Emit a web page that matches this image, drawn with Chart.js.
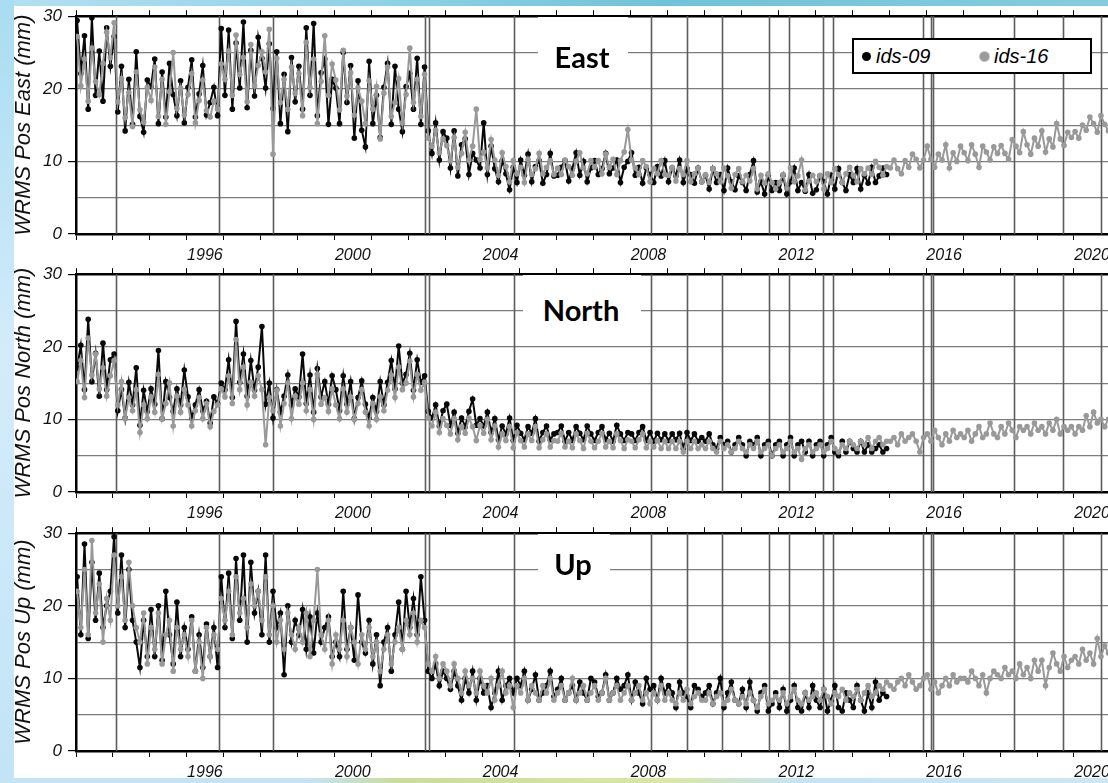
<!DOCTYPE html>
<html>
<head>
<meta charset="utf-8">
<title>WRMS Pos</title>
<script src="https://cdn.jsdelivr.net/npm/chart.js@4.4.1/dist/chart.umd.min.js"></script>
<style>
  body { margin: 0; width: 1108px; height: 783px; overflow: hidden; position: relative; background: #c6e6f6; }
  #topband { position: absolute; left: 0; top: 0; width: 1108px; height: 6px;
    background: linear-gradient(90deg, #b3e0f2 0%, #8fd1e6 35%, #6fc3d8 60%, #86cce0 100%); }
  #leftband { position: absolute; left: 0; top: 0; width: 14px; height: 783px;
    background: linear-gradient(180deg, #a9dcf1 0%, #d3ecf9 45%, #c2e4f5 100%); }
  #bottomband { position: absolute; left: 0; top: 778px; width: 1108px; height: 5px;
    background: linear-gradient(90deg, #c4e4f4 0%, #c4e4f4 28%, #c9dc9c 36%, #dbe6a8 60%, #c4e4f4 72%, #cde7f3 100%); }
  #sheet { position: absolute; left: 14px; top: 6px; width: 1094px; height: 772px; background: #fff; }
  canvas { position: absolute; left: 0; }
  .box { position: absolute; background: #fff; }
  .tag { position: absolute; width: 100px; text-align: center; font-family: Lato, "Open Sans", sans-serif;
    font-weight: 700; font-size: 29px; line-height: 29px; color: #000; }
  #legend { position: absolute; left: 852px; top: 38px; width: 240px; height: 36px; box-sizing: border-box;
    border: 2px solid #000; background: #fff; }
  .dot { position: absolute; width: 9px; height: 9px; border-radius: 50%; top: 12px; }
  .lab { position: absolute; top: 5px; font-family: "Liberation Sans", Arial, sans-serif; font-style: italic;
    font-size: 20px; line-height: 22px; color: #000; }
</style>
</head>
<body>
<div id="topband"></div>
<div id="leftband"></div>
<div id="bottomband"></div>
<div id="sheet"></div>

<canvas id="eastChart" width="1108" height="274" style="top:0px"></canvas>
<canvas id="northChart" width="1108" height="274" style="top:258px"></canvas>
<canvas id="upChart" width="1108" height="274" style="top:517px"></canvas>

<div class="box" style="left:538px; top:17px; width:90px; height:58px"></div>
<div class="tag" style="left:532px; top:42px">East</div>
<div class="box" style="left:523px; top:275px; width:118px; height:60px"></div>
<div class="tag" style="left:531px; top:295px">North</div>
<div class="box" style="left:538px; top:534px; width:72px; height:60px"></div>
<div class="tag" style="left:523px; top:549px">Up</div>

<div id="legend">
  <span class="dot" style="left:8px; background:#000"></span>
  <span class="lab" style="left:22px">ids-09</span>
  <span class="dot" style="left:126px; background:#9a9a9a; box-shadow:0 0 0 1px #c4c4c4"></span>
  <span class="lab" style="left:140px">ids-16</span>
</div>

<script>
// sampling of the series: 10 values per year, starting at the beginning of 1993
const firstYear = 1993.03;
const samplesPerYear = 10;

const tickYears = [1993, 1994, 1995, 1996, 1997, 1998, 1999, 2000, 2001, 2002, 2003, 2004, 2005, 2006,
  2007, 2008, 2009, 2010, 2011, 2012, 2013, 2014, 2015, 2016, 2017, 2018, 2019, 2020];
const labelYears = [1996, 2000, 2004, 2008, 2012, 2016, 2020];
const yGrid = [0, 2.5, 5, 7.5, 10, 12.5, 15, 17.5, 20, 22.5, 25, 27.5, 30];
const yLabels = [0, 10, 20, 30];
// vertical event lines
const eventYears = [1994.08, 1996.87, 1998.33, 2002.44, 2002.55, 2004.85, 2008.56, 2009.53, 2010.48,
  2011.75, 2012.29, 2013.21, 2013.48, 2015.92, 2016.13, 2016.19, 2018.38, 2019.71, 2020.74];

// East, mm
const eastIds09 = [
  29.4, 22.1, 27.3, 17.2, 29.8, 19.1, 25.2, 18.3, 28.4, 23.1, // 1993
  27.2, 16.8, 23.1, 14.2, 21.3, 15.1, 25.1, 16.2, 14.0, 21.2, // 1994
  20.3, 24.1, 15.2, 22.3, 16.1, 23.5, 19.2, 16.3, 21.1, 15.3, // 1995
  20.2, 24.0, 16.1, 19.3, 23.2, 16.4, 18.1, 20.2, 16.3, 28.3, // 1996
  19.1, 28.1, 17.2, 26.3, 20.1, 29.2, 17.4, 25.3, 19.0, 27.1, // 1997
  24.2, 20.1, 26.2, 17.3, 25.1, 15.2, 22.0, 14.1, 24.3, 18.2, // 1998
  23.1, 17.2, 28.4, 19.1, 29.0, 16.3, 22.2, 24.1, 15.1, 21.3, // 1999
  20.1, 15.2, 25.0, 18.1, 23.2, 13.2, 21.1, 14.3, 12.0, 23.8, // 2000
  15.2, 19.1, 13.3, 20.2, 23.5, 15.1, 23.1, 17.2, 14.1, 20.3, // 2001
  22.1, 17.2, 24.2, 15.1, 23.0, 14.2, 11.1, 15.3, 10.2, 14.1, // 2002
  13.2, 9.1, 14.2, 8.0, 12.3, 13.1, 8.2, 11.1, 10.2, 9.1,     // 2003
  15.3, 8.2, 12.1, 9.0, 7.2, 10.1, 8.3, 6.1, 9.2, 7.1,        // 2004
  10.2, 8.1, 11.0, 7.2, 9.3, 10.1, 7.0, 8.2, 11.1, 8.0,       // 2005
  8.1, 9.2, 10.1, 7.3, 9.0, 11.2, 8.1, 10.0, 7.2, 9.1,        // 2006
  10.1, 8.2, 9.0, 11.1, 8.3, 9.1, 10.2, 7.1, 9.2, 10.0,       // 2007
  11.2, 8.1, 9.2, 7.0, 9.1, 8.2, 7.1, 9.3, 8.0, 10.1,         // 2008
  7.2, 9.1, 8.0, 10.2, 7.1, 9.0, 8.2, 7.0, 9.1, 7.2,          // 2009
  8.1, 6.2, 9.0, 7.1, 8.2, 6.0, 9.1, 7.2, 6.1, 8.0,           // 2010
  7.1, 6.0, 8.2, 10.1, 5.8, 7.2, 5.5, 8.1, 6.0, 7.1,          // 2011
  6.0, 8.1, 5.5, 7.2, 9.1, 6.0, 7.1, 5.9, 8.2, 5.6,           // 2012
  6.1, 8.0, 7.2, 5.5, 8.1, 6.2, 9.0, 7.1, 6.0, 8.2,           // 2013
  7.1, 9.0, 6.2, 8.1, 7.0, 9.2, 7.1, 8.0, 9.1, 8.2            // 2014
];
const eastIds16 = [
  27.2, 20.4, 24.1, 18.3, 25.6, 21.0, 19.2, 23.5, 27.8, 24.3, // 1993
  29.1, 18.2, 21.4, 16.0, 19.5, 14.8, 22.3, 17.1, 15.4, 20.2, // 1994
  18.4, 23.0, 16.2, 21.3, 15.1, 19.6, 25.0, 17.3, 20.1, 16.4, // 1995
  19.2, 22.1, 15.3, 18.4, 21.2, 17.0, 16.1, 18.3, 17.2, 23.4, // 1996
  21.3, 25.2, 19.1, 27.4, 22.0, 24.3, 18.2, 26.1, 20.4, 23.2, // 1997
  25.1, 22.3, 28.2, 11.0, 24.2, 18.1, 21.3, 17.2, 23.0, 19.4, // 1998
  22.1, 16.3, 26.4, 20.2, 24.1, 15.2, 21.0, 27.3, 19.1, 23.4, // 1999
  21.2, 17.1, 25.3, 19.0, 22.2, 16.4, 20.1, 18.3, 15.2, 21.1, // 2000
  17.2, 20.3, 13.1, 19.4, 23.0, 16.2, 18.1, 21.4, 15.3, 19.2, // 2001
  25.6, 18.1, 21.3, 16.2, 22.0, 13.2, 12.1, 14.3, 11.2, 13.1, // 2002
  12.2, 10.1, 13.3, 9.2, 11.1, 14.0, 10.2, 12.1, 17.2, 10.3,  // 2003
  11.3, 9.1, 13.0, 10.2, 8.1, 11.2, 9.3, 7.2, 10.1, 8.3,      // 2004
  9.2, 7.1, 10.3, 8.2, 9.0, 11.1, 8.3, 9.2, 10.1, 8.2,        // 2005
  9.1, 8.2, 10.2, 9.3, 8.1, 10.0, 11.2, 9.1, 8.3, 10.1,       // 2006
  9.2, 10.1, 8.3, 11.0, 9.2, 10.3, 8.2, 10.1, 11.3, 14.4,     // 2007
  10.2, 9.1, 8.2, 10.1, 9.3, 7.2, 9.0, 8.3, 10.1, 8.2,        // 2008
  8.1, 9.2, 7.3, 9.0, 8.2, 10.1, 7.2, 8.3, 9.1, 7.2,          // 2009
  8.2, 7.1, 9.0, 8.3, 7.2, 9.1, 8.0, 6.3, 8.2, 9.0,           // 2010
  7.2, 8.1, 7.3, 9.0, 6.2, 8.1, 7.0, 8.3, 7.1, 6.2,           // 2011
  7.1, 8.2, 6.3, 9.1, 7.2, 8.0, 10.2, 6.1, 7.3, 8.1,          // 2012
  7.2, 8.1, 6.2, 8.3, 7.1, 9.0, 8.2, 7.1, 8.3, 9.2,           // 2013
  8.1, 7.2, 9.0, 8.3, 9.1, 8.2, 10.0, 9.2, 8.1, 9.3,          // 2014
  9.1, 10.2, 9.0, 8.3, 10.1, 9.2, 11.0, 10.3, 9.1, 10.2,      // 2015
  12.1, 10.3, 9.2, 11.0, 10.2, 12.3, 9.1, 11.2, 10.0, 12.1,   // 2016
  11.2, 10.1, 12.3, 11.0, 9.2, 12.1, 11.3, 10.2, 12.0, 11.1,  // 2017
  12.2, 11.1, 10.3, 13.0, 12.1, 11.2, 14.1, 12.3, 11.0, 13.2, // 2018
  12.1, 14.2, 11.3, 13.1, 12.0, 15.2, 13.1, 12.2, 14.0, 13.3, // 2019
  14.1, 13.2, 15.0, 14.3, 16.1, 15.2, 14.0, 16.3, 15.1, 14.2  // 2020
];

// North, mm
const northIds09 = [
  17.1, 20.2, 14.1, 23.8, 15.2, 19.1, 13.2, 20.5, 14.1, 18.2, // 1993
  19.0, 11.2, 14.1, 10.2, 15.1, 12.0, 17.1, 9.2, 14.0, 11.1,  // 1994
  14.2, 12.1, 19.5, 10.1, 15.2, 13.0, 11.1, 14.2, 12.0, 16.8, // 1995
  13.1, 10.2, 12.0, 14.1, 11.2, 12.5, 9.5, 13.1, 12.2, 15.0,  // 1996
  14.1, 18.2, 13.0, 23.5, 15.1, 19.0, 13.2, 18.1, 14.0, 17.2, // 1997
  22.8, 12.1, 15.0, 10.2, 14.1, 11.0, 13.2, 16.1, 12.0, 14.2, // 1998
  13.1, 19.0, 12.2, 16.1, 11.0, 17.0, 13.1, 15.2, 12.1, 16.0, // 1999
  14.1, 11.2, 16.0, 12.1, 15.2, 10.1, 13.0, 15.3, 12.1, 10.2, // 2000
  13.0, 11.1, 15.2, 12.0, 15.1, 18.1, 14.2, 20.1, 15.0, 16.2, // 2001
  19.1, 14.0, 18.2, 15.1, 16.0, 11.1, 10.2, 12.0, 9.1, 11.2,  // 2002
  12.1, 9.2, 11.0, 8.1, 10.2, 9.0, 11.1, 12.8, 9.2, 10.1,     // 2003
  9.1, 11.0, 8.2, 10.1, 7.2, 9.1, 8.0, 10.2, 7.1, 9.2,        // 2004
  8.1, 7.2, 9.0, 8.1, 10.1, 7.0, 8.2, 9.1, 7.2, 8.0,          // 2005
  8.2, 9.1, 7.0, 8.2, 7.1, 9.0, 8.1, 7.2, 9.1, 8.0,           // 2006
  7.1, 8.2, 9.0, 7.2, 8.1, 7.0, 9.2, 8.0, 7.1, 8.2,           // 2007
  8.0, 7.1, 8.2, 9.0, 7.1, 8.2, 7.0, 8.1, 7.2, 8.0,           // 2008
  7.1, 8.0, 7.2, 8.1, 6.0, 8.2, 7.1, 8.0, 7.0, 7.5,           // 2009
  7.0, 8.0, 6.5, 6.0, 7.5, 6.5, 7.0, 5.5, 6.5, 7.5,           // 2010
  6.5, 5.0, 7.0, 6.5, 7.5, 5.0, 6.5, 7.0, 5.0, 6.5,           // 2011
  7.0, 5.0, 6.5, 7.5, 5.0, 6.5, 7.0, 5.5, 7.0, 5.0,           // 2012
  6.5, 7.0, 5.0, 6.5, 7.5, 5.5, 5.0, 7.0, 5.5, 7.0,           // 2013
  6.0, 5.5, 7.0, 5.5, 6.5, 5.5, 6.0, 6.5, 5.5, 6.0            // 2014
];
const northIds16 = [
  15.2, 18.1, 13.0, 21.2, 16.1, 19.0, 14.2, 17.1, 13.2, 16.0, // 1993
  18.1, 12.0, 15.2, 10.1, 13.0, 11.2, 14.1, 8.2, 12.0, 10.1,  // 1994
  13.1, 11.0, 16.2, 10.1, 12.2, 15.0, 9.1, 13.2, 11.0, 14.1,  // 1995
  12.0, 9.1, 11.2, 13.0, 10.1, 12.2, 9.0, 11.1, 12.0, 14.2,   // 1996
  13.1, 16.0, 12.2, 21.0, 14.1, 17.2, 12.0, 15.1, 13.2, 16.0, // 1997
  14.1, 6.5, 13.0, 11.2, 14.0, 9.1, 12.2, 15.0, 10.1, 13.2,   // 1998
  12.1, 15.0, 11.2, 14.1, 10.0, 16.2, 12.1, 13.0, 11.1, 14.2, // 1999
  12.0, 10.1, 14.2, 11.0, 13.1, 10.0, 12.2, 14.1, 11.0, 9.1,  // 2000
  12.2, 10.0, 13.1, 11.2, 14.0, 16.1, 13.0, 17.2, 14.1, 15.0, // 2001
  18.0, 13.1, 16.2, 14.0, 15.1, 10.2, 9.1, 11.0, 8.2, 10.1,   // 2002
  9.2, 8.0, 10.1, 7.2, 9.0, 8.1, 10.2, 9.0, 7.1, 9.2,         // 2003
  8.1, 10.0, 7.2, 9.1, 6.2, 8.0, 7.1, 9.0, 6.1, 8.2,          // 2004
  7.1, 6.2, 8.0, 7.1, 9.0, 6.1, 7.2, 8.0, 6.2, 7.1,           // 2005
  7.0, 8.1, 6.2, 7.0, 6.1, 8.0, 7.1, 6.0, 8.1, 7.0,           // 2006
  6.1, 7.0, 8.1, 6.2, 7.0, 6.1, 8.0, 7.1, 6.0, 7.2,           // 2007
  7.0, 6.1, 7.2, 8.0, 6.1, 7.0, 6.2, 7.1, 6.0, 7.0,           // 2008
  6.0, 7.0, 6.0, 7.0, 5.5, 7.0, 6.0, 7.0, 6.0, 6.5,           // 2009
  6.0, 7.0, 6.0, 5.5, 7.0, 6.0, 6.5, 5.5, 6.0, 7.0,           // 2010
  6.0, 5.5, 6.5, 6.0, 7.0, 5.5, 6.0, 6.5, 5.0, 6.0,           // 2011
  6.5, 5.5, 6.0, 7.0, 5.5, 6.0, 4.5, 6.0, 6.5, 5.5,           // 2012
  6.0, 6.5, 5.5, 6.0, 7.0, 6.0, 5.5, 6.5, 6.0, 7.0,           // 2013
  6.5, 6.0, 7.0, 6.5, 7.5, 6.0, 7.0, 7.5, 6.5, 7.0,           // 2014
  7.0, 7.5, 6.5, 8.0, 7.0, 7.5, 8.0, 7.0, 5.5, 7.5,           // 2015
  8.0, 7.0, 8.5, 7.5, 6.5, 8.0, 7.0, 8.5, 7.5, 8.0,           // 2016
  7.5, 8.5, 7.0, 8.0, 9.0, 7.5, 8.0, 9.5, 8.0, 7.5,           // 2017
  9.0, 8.0, 9.5, 8.5, 7.5, 9.0, 8.5, 9.0, 8.0, 9.5,           // 2018
  8.5, 9.0, 8.0, 9.5, 8.5, 10.0, 8.0, 9.0, 8.5, 9.0,          // 2019
  8.0, 9.0, 8.5, 10.5, 9.0, 11.0, 9.5, 10.0, 9.0, 10.0        // 2020
];

// Up, mm
const upIds09 = [
  24.0, 16.0, 28.5, 15.5, 26.0, 18.0, 24.5, 17.0, 20.0, 22.0, // 1993
  29.5, 19.0, 27.0, 17.0, 25.0, 18.0, 15.0, 11.5, 18.0, 13.0, // 1994
  19.5, 13.0, 20.0, 12.5, 22.0, 16.0, 12.0, 20.5, 13.0, 17.0, // 1995
  14.0, 18.5, 11.0, 16.0, 11.5, 17.5, 13.0, 17.0, 11.5, 24.0, // 1996
  17.0, 24.5, 15.5, 26.5, 18.0, 27.0, 15.0, 26.0, 19.0, 22.0, // 1997
  16.0, 27.0, 15.0, 22.0, 17.0, 19.0, 10.5, 20.0, 15.0, 18.0, // 1998
  16.0, 19.5, 14.0, 18.5, 13.5, 19.0, 15.0, 17.0, 18.5, 13.0, // 1999
  15.0, 13.0, 22.0, 14.0, 17.0, 12.5, 21.5, 15.0, 13.5, 18.0, // 2000
  12.0, 16.0, 9.0, 15.0, 17.0, 11.0, 16.0, 20.5, 14.0, 22.0,  // 2001
  17.0, 21.0, 16.0, 24.0, 18.0, 11.0, 10.0, 12.0, 9.0, 11.0,  // 2002
  10.0, 8.5, 11.0, 9.0, 7.0, 10.0, 8.0, 11.0, 7.0, 10.0,      // 2003
  8.0, 9.0, 6.0, 8.0, 11.0, 7.0, 9.0, 10.0, 8.0, 10.0,        // 2004
  9.0, 11.0, 7.0, 8.5, 10.5, 7.0, 8.0, 9.0, 11.0, 7.5,        // 2005
  8.5, 10.0, 7.0, 8.0, 9.0, 7.0, 9.5, 8.0, 7.0, 10.0,         // 2006
  9.5, 7.5, 8.0, 10.5, 7.0, 8.0, 10.0, 8.5, 9.0, 10.5,        // 2007
  7.0, 9.5, 8.0, 6.5, 10.0, 8.5, 9.0, 7.0, 10.0, 8.0,         // 2008
  9.0, 8.0, 6.0, 9.5, 8.0, 7.5, 6.0, 9.0, 8.5, 7.5,           // 2009
  8.0, 9.0, 6.5, 8.0, 10.0, 6.0, 8.0, 9.5, 7.0, 6.5,          // 2010
  8.5, 6.0, 9.5, 7.0, 5.5, 8.0, 9.0, 5.5, 6.5, 8.0,           // 2011
  6.0, 8.5, 5.5, 7.0, 9.0, 6.0, 5.5, 8.0, 6.0, 9.0,           // 2012
  7.0, 6.0, 8.5, 5.5, 7.0, 9.0, 6.0, 5.5, 8.0, 7.0,           // 2013
  6.0, 9.0, 7.0, 5.5, 8.0, 6.0, 9.5, 7.0, 8.0, 7.5            // 2014
];
const upIds16 = [
  22.0, 17.0, 25.0, 16.0, 29.0, 19.0, 23.0, 15.0, 21.0, 18.0, // 1993
  27.0, 20.0, 24.0, 18.0, 26.0, 20.0, 17.0, 15.0, 19.0, 12.0, // 1994
  17.0, 14.0, 19.0, 12.0, 16.0, 18.0, 11.0, 17.0, 14.0, 16.0, // 1995
  13.0, 18.0, 11.0, 15.0, 10.0, 17.0, 13.0, 16.0, 14.0, 21.0, // 1996
  18.0, 22.0, 16.0, 24.0, 19.0, 21.0, 17.0, 23.0, 20.0, 22.0, // 1997
  18.0, 24.0, 16.0, 20.0, 15.0, 18.0, 14.0, 19.0, 16.0, 14.0, // 1998
  17.0, 15.0, 19.0, 13.0, 18.0, 25.0, 16.0, 14.0, 18.0, 12.0, // 1999
  16.0, 14.0, 18.0, 13.0, 17.0, 15.0, 12.0, 16.0, 14.0, 17.0, // 2000
  13.0, 15.0, 11.0, 14.0, 16.0, 12.0, 15.0, 17.0, 14.0, 18.0, // 2001
  16.0, 19.0, 15.0, 18.0, 17.0, 12.0, 11.0, 13.0, 10.0, 12.0, // 2002
  11.0, 9.0, 12.0, 10.0, 8.0, 11.0, 9.0, 10.0, 8.0, 11.0,     // 2003
  9.0, 8.0, 10.0, 7.0, 9.0, 11.0, 8.0, 9.0, 6.0, 9.0,         // 2004
  8.0, 10.0, 7.0, 9.0, 8.0, 7.0, 9.0, 8.0, 10.0, 7.0,         // 2005
  8.0, 9.0, 7.0, 8.0, 10.0, 7.0, 8.0, 9.0, 7.0, 8.0,          // 2006
  9.0, 7.0, 8.0, 10.0, 7.0, 8.0, 9.0, 7.0, 8.0, 9.0,          // 2007
  7.0, 8.0, 9.0, 7.0, 8.0, 6.5, 8.0, 7.0, 9.0, 7.0,           // 2008
  8.0, 7.0, 6.5, 8.0, 7.0, 8.5, 6.5, 7.5, 8.0, 7.0,           // 2009
  7.0, 8.0, 6.5, 7.5, 8.0, 6.5, 7.0, 8.5, 7.0, 6.5,           // 2010
  7.5, 6.5, 8.0, 7.0, 6.0, 7.5, 8.5, 6.5, 7.0, 7.5,           // 2011
  7.0, 8.0, 6.5, 7.5, 8.5, 7.0, 6.5, 8.0, 7.0, 7.5,           // 2012
  8.0, 7.0, 8.5, 7.5, 6.5, 8.0, 7.5, 8.5, 7.0, 8.0,           // 2013
  7.5, 8.5, 7.0, 8.0, 9.0, 7.5, 8.0, 9.0, 8.5, 9.5,           // 2014
  9.0, 8.5, 9.5, 10.0, 9.0, 10.5, 9.5, 8.5, 9.0, 10.0,        // 2015
  10.5, 8.5, 9.5, 8.0, 9.0, 10.0, 9.0, 10.5, 9.5, 10.0,       // 2016
  10.0, 9.5, 11.0, 10.0, 9.0, 10.5, 8.0, 10.0, 11.0, 10.5,    // 2017
  10.0, 11.5, 10.5, 11.0, 10.0, 12.0, 10.5, 11.5, 10.0, 12.5, // 2018
  11.0, 12.5, 9.0, 11.5, 13.5, 12.0, 11.0, 13.0, 11.5, 12.5,  // 2019
  13.0, 12.0, 14.0, 12.5, 13.5, 12.0, 15.5, 13.0, 14.5, 13.5  // 2020
];

const axisFont = 'Liberation Sans';

function toPoints(values) {
  return values.map((v, i) => ({ x: firstYear + i / samplesPerYear, y: v }));
}

// event lines drawn between the grid and the data
const eventLines = {
  id: 'eventLines',
  beforeDatasetsDraw(chart) {
    const { ctx, chartArea, scales } = chart;
    ctx.save();
    ctx.strokeStyle = '#5c5c5c';
    ctx.lineWidth = 1.6;
    eventYears.forEach(yr => {
      const px = Math.round(scales.x.getPixelForValue(yr)) + 0.5;
      ctx.beginPath();
      ctx.moveTo(px, chartArea.top);
      ctx.lineTo(px, chartArea.bottom);
      ctx.stroke();
    });
    ctx.restore();
  }
};

function makePanel(canvasId, yTitle, ids09, ids16) {
  const tickList = () => tickYears.map(v => ({ value: v }));
  return new Chart(document.getElementById(canvasId), {
    type: 'line',
    data: {
      datasets: [
        {
          label: 'ids-09',
          data: toPoints(ids09),
          borderColor: '#080808',
          backgroundColor: '#080808',
          borderWidth: 2,
          pointRadius: 2.8,
          pointBorderWidth: 0,
          order: 2
        },
        {
          label: 'ids-16',
          data: toPoints(ids16),
          borderColor: '#999999',
          backgroundColor: '#999999',
          borderWidth: 2,
          pointRadius: 2.8,
          pointBorderWidth: 0,
          order: 1
        }
      ]
    },
    options: {
      responsive: false,
      animation: false,
      layout: { padding: { top: 6, left: 0, right: 0, bottom: 0 }, autoPadding: false },
      plugins: { legend: { display: false }, tooltip: { enabled: false } },
      scales: {
        x: {
          type: 'linear',
          position: 'bottom',
          min: 1993,
          max: 2020.92,
          afterBuildTicks: s => { s.ticks = tickList(); },
          afterFit: s => { s.height = 40; },
          ticks: {
            autoSkip: false,
            maxRotation: 0,
            labelOffset: 18,
            padding: 6,
            color: '#111',
            font: { family: axisFont, style: 'italic', size: 16 },
            callback: v => labelYears.includes(v) ? String(v) : ''
          },
          grid: { drawOnChartArea: false, tickLength: 6, color: '#000', lineWidth: 1 },
          border: { color: '#000', width: 2.5 }
        },
        xTop: {
          type: 'linear',
          position: 'top',
          min: 1993,
          max: 2020.92,
          afterBuildTicks: s => { s.ticks = tickList(); },
          afterFit: s => { s.height = 9; },
          ticks: { callback: () => '', padding: 0 },
          grid: { drawOnChartArea: false, tickLength: 6, color: '#000', lineWidth: 1 },
          border: { color: '#000', width: 2.5 }
        },
        y: {
          min: 0,
          max: 30,
          afterBuildTicks: s => { s.ticks = yGrid.map(v => ({ value: v })); },
          afterFit: s => { s.width = 76; },
          ticks: {
            padding: 6,
            color: '#111',
            font: { family: axisFont, style: 'italic', size: 17 },
            callback: v => yLabels.includes(v) ? String(v) : ''
          },
          grid: {
            color: ctx => (ctx.tick && (ctx.tick.value === 0 || ctx.tick.value === 30)) ? 'rgba(0,0,0,0)' : '#7c7c7c',
            lineWidth: 1.2,
            tickLength: 8,
            tickColor: ctx => (ctx.tick && yLabels.includes(ctx.tick.value)) ? '#000' : 'rgba(0,0,0,0)'
          },
          border: { color: '#000', width: 2.5 },
          title: {
            display: true,
            text: yTitle,
            color: '#111',
            font: { family: axisFont, style: 'italic', size: 22 },
            padding: { top: 11, bottom: 0 }
          }
        }
      }
    },
    plugins: [eventLines]
  });
}

makePanel('eastChart', 'WRMS Pos East (mm)', eastIds09, eastIds16);
makePanel('northChart', 'WRMS Pos North (mm)', northIds09, northIds16);
makePanel('upChart', 'WRMS Pos Up (mm)', upIds09, upIds16);
</script>
</body>
</html>
